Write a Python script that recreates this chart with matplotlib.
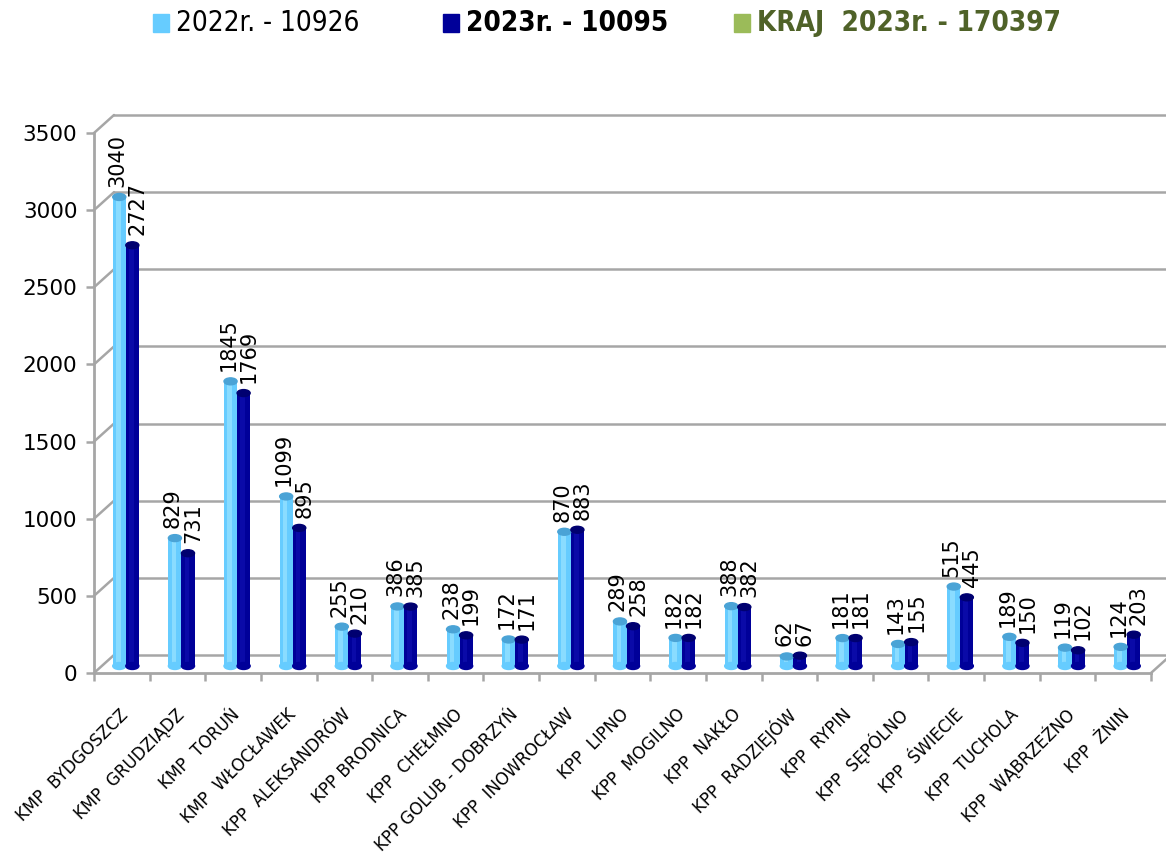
import matplotlib.pyplot as plt
from matplotlib.transforms import offset_copy
from matplotlib.patches import Ellipse, Rectangle, ConnectionPatch

categories = ['KMP  BYDGOSZCZ', 'KMP  GRUDZIĄDZ', 'KMP  TORUŃ', 'KMP  WŁOCŁAWEK',
              'KPP  ALEKSANDRÓW', 'KPP BRODNICA', 'KPP  CHEŁMNO', 'KPP GOLUB - DOBRZYŃ',
              'KPP  INOWROCŁAW', 'KPP  LIPNO', 'KPP  MOGILNO', 'KPP  NAKŁO',
              'KPP  RADZIEJÓW', 'KPP  RYPIN', 'KPP  SĘPÓLNO', 'KPP  ŚWIECIE',
              'KPP  TUCHOLA', 'KPP  WĄBRZEŹNO', 'KPP  ŻNIN']
v2022 = [3040, 829, 1845, 1099, 255, 386, 238, 172, 870, 289, 182, 388, 62, 181, 143, 515, 189, 119, 124]
v2023 = [2727, 731, 1769, 895, 210, 385, 199, 171, 883, 258, 182, 382, 67, 181, 155, 445, 150, 102, 203]
yticks = [0, 500, 1000, 1500, 2000, 2500, 3000, 3500]
legend_labels = ['2022r. - 10926', '2023r. - 10095', 'KRAJ  2023r. - 170397']

light = '#66ccff'
light_hi = '#8adcff'
light_cap = '#4aa3d6'
dark = '#000099'
dark_hi = '#0a0aa8'
dark_cap = '#000070'
green = '#9bbb59'
grid = '#a6a6a6'

fig = plt.figure(figsize=(11.66, 8.55), dpi=100)
ax = fig.add_axes([94 / 1166, 182 / 855, 1057 / 1166, 540 / 855])
ax.set_xlim(0, len(categories))
ax.set_ylim(0, 3500)

# back wall and bar depth offsets (pseudo 3d)
back = offset_copy(ax.transData, fig=fig, x=20, y=18, units='dots')
mid = offset_copy(ax.transData, fig=fig, x=4, y=7, units='dots')

# gridlines on the back wall + side diagonals
for v in yticks:
    ax.plot([0, len(categories) + 1], [v, v], transform=back, color=grid, lw=1.8,
            clip_on=False, zorder=1)
    ax.add_artist(ConnectionPatch(xyA=(0, v), coordsA=ax.transData, xyB=(0, v), coordsB=back,
                                  color=grid, lw=1.8, zorder=1))
ax.add_artist(ConnectionPatch(xyA=(len(categories), 0), coordsA=ax.transData,
                              xyB=(len(categories), 0), coordsB=back,
                              color=grid, lw=1.8, zorder=1))

for side in ['top', 'right']:
    ax.spines[side].set_visible(False)
for side in ['left', 'bottom']:
    ax.spines[side].set_color(grid)
    ax.spines[side].set_linewidth(2)
ax.set_yticks(yticks)
ax.set_yticklabels([str(v) for v in yticks])
ax.set_xticks(range(len(categories) + 1))
ax.set_xticklabels([])
ax.tick_params(axis='both', direction='out', length=6, width=1.8, color=grid, labelsize=15.5)
ax.tick_params(axis='y', pad=6)

w = 0.235
cap_h = 45
for i, (a, b) in enumerate(zip(v2022, v2023)):
    for xc, v, col, hi, capcol, dx in [(i + 0.5 - w / 2, a, light, light_hi, light_cap, -2),
                                       (i + 0.5 + w / 2, b, dark, dark_hi, dark_cap, 5)]:
        ax.bar(xc, v, width=w, color=col, transform=mid, clip_on=False, zorder=3)
        # simple highlight to hint at a cylinder
        ax.bar(xc - w * 0.08, v, width=w * 0.35, color=hi, transform=mid, clip_on=False, zorder=3)
        ax.add_patch(Ellipse((xc, 0), w, cap_h, color=col, transform=mid, clip_on=False, zorder=3))
        ax.add_patch(Ellipse((xc, v), w, cap_h, color=capcol, transform=mid, clip_on=False, zorder=4))
        ax.annotate(str(v), xy=(xc, v), xycoords=mid, xytext=(dx, 10), textcoords='offset pixels',
                    rotation=90, ha='center', va='bottom', fontsize=15, zorder=5)

for i, cat in enumerate(categories):
    ax.annotate(cat, xy=(i + 0.5, 0), xycoords='data', xytext=(4, -39), textcoords='offset pixels',
                rotation=45, rotation_mode='anchor', ha='right', va='center', fontsize=12)

# legend drawn by hand to keep the uneven spacing of the original
leg_font = dict(family='DejaVu Sans', stretch='condensed', size=20)
leg_x = [153, 443, 734]
leg_cols = [light, dark, green]
leg_style = [('normal', 'black'), ('bold', 'black'), ('bold', '#4f6228')]
for x, lab, col, (wt, tc) in zip(leg_x, legend_labels, leg_cols, leg_style):
    fig.patches.append(Rectangle((x / 1166, 1 - 32 / 855), 16 / 1166, 18 / 855, color=col,
                                 transform=fig.transFigure))
    fig.text((x + 23) / 1166, 1 - 23 / 855, lab, va='center', ha='left', fontweight=wt,
             color=tc, **leg_font)

fig.savefig('out.png', dpi=100)
